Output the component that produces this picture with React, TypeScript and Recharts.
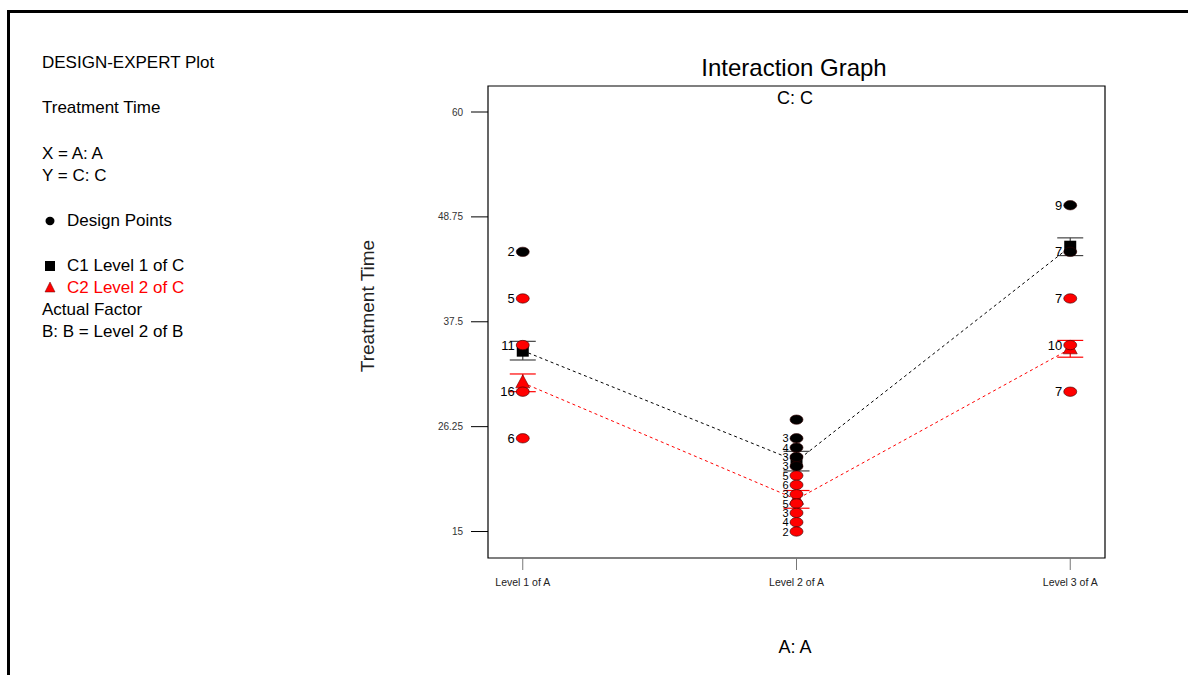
import React from "react";
import { ScatterChart, Scatter, XAxis, YAxis, ErrorBar, ReferenceArea } from "recharts";

// categories and ticks
const levelLabels = ["Level 1 of A", "Level 2 of A", "Level 3 of A"];
const levelPos = [1, 2, 3];
const yTicks = [15, 26.25, 37.5, 48.75, 60];

// predicted means and error half-widths per level of A
const c1Means = [34.4, 22.55, 45.55];
const c1Err = [1.0, 1.05, 0.95];
const c2Means = [30.95, 18.45, 34.6];
const c2Err = [0.95, 0.95, 0.9];

// design points: [level, value, count label]
const c1Points: [number, number, string][] = [
  [1, 45, "2"],
  [2, 27, ""],
  [2, 25, "3"],
  [2, 24, "4"],
  [2, 23, "3"],
  [2, 22, "3"],
  [3, 50, "9"],
  [3, 45, "7"],
];
const c2Points: [number, number, string][] = [
  [1, 40, "5"],
  [1, 35, "11"],
  [1, 30, "16"],
  [1, 25, "6"],
  [2, 21, "5"],
  [2, 20, "6"],
  [2, 19, "3"],
  [2, 18, "5"],
  [2, 17, "3"],
  [2, 16, "4"],
  [2, 15, "2"],
  [3, 40, "7"],
  [3, 35, "10"],
  [3, 30, "7"],
];

const FONT = "'Liberation Sans', Arial, sans-serif";
const X_DOMAIN: [number, number] = [0.873, 3.127];
const Y_DOMAIN: [number, number] = [12.16, 62.79];

const meanRows = (means: number[], errs: number[]) =>
  means.map((m, i) => ({ x: levelPos[i], y: m, e: errs[i] }));
const pointRows = (pts: [number, number, string][]) => pts.map(([x, y, n]) => ({ x, y, n }));

const dotShape = (fill: string) => (props: any) => {
  const { cx, cy, payload } = props;
  // the crowded middle column uses a slightly smaller count label
  const crowded = payload.x === 2;
  return (
    <g>
      <ellipse cx={cx} cy={cy} rx={6.5} ry={4.7} fill={fill} stroke="#300" strokeWidth={0.6} />
      {payload.n ? (
        <text
          x={cx - 8}
          y={cy + (crowded ? 4 : 4.5)}
          textAnchor="end"
          fontSize={crowded ? 11 : 13}
          fill="#000"
          fontFamily={FONT}
        >
          {payload.n}
        </text>
      ) : null}
    </g>
  );
};

const squareShape = (props: any) => {
  const { cx, cy } = props;
  return <rect x={cx - 6} y={cy - 6} width={12} height={12} fill="#000" />;
};

const triangleShape = (props: any) => {
  const { cx, cy } = props;
  return (
    <polygon
      points={`${cx},${cy - 8} ${cx - 7},${cy + 5} ${cx + 7},${cy + 5}`}
      fill="#f00"
      stroke="#600"
      strokeWidth={0.6}
    />
  );
};

const Txt = ({ x, y, size, color = "#000", children, rotate }: any) => (
  <div
    style={{
      position: "absolute",
      left: x,
      top: y,
      transform: `translate(-50%, -50%)${rotate ? " rotate(-90deg)" : ""}`,
      fontSize: size,
      color,
      whiteSpace: "nowrap",
      lineHeight: 1,
    }}
  >
    {children}
  </div>
);

const LegendLine = ({ y, left = 42, color = "#000", children }: any) => (
  <div
    style={{
      position: "absolute",
      left,
      top: y - 10,
      fontSize: 17,
      lineHeight: "20px",
      color,
      whiteSpace: "nowrap",
    }}
  >
    {children}
  </div>
);

export default function App() {
  return (
    <div
      style={{
        position: "fixed",
        left: 0,
        top: 0,
        width: 1188,
        height: 675,
        background: "#fff",
        fontFamily: FONT,
        overflow: "hidden",
      }}
    >
      <div
        style={{
          position: "absolute",
          left: 7,
          top: 10,
          width: 1200,
          height: 700,
          borderTop: "3px solid #000",
          borderLeft: "3px solid #000",
          boxSizing: "border-box",
        }}
      />

      <LegendLine y={63}>DESIGN-EXPERT Plot</LegendLine>
      <LegendLine y={108}>Treatment Time</LegendLine>
      <LegendLine y={154}>X = A: A</LegendLine>
      <LegendLine y={176}>Y = C: C</LegendLine>
      <svg style={{ position: "absolute", left: 42, top: 212 }} width={20} height={130}>
        <ellipse cx={8} cy={9} rx={4.5} ry={4.2} fill="#000" />
        <rect x={3} y={49} width={10} height={10} fill="#000" />
        <polygon points="8,70 3,80 13,80" fill="#f00" stroke="#600" strokeWidth={0.5} />
      </svg>
      <LegendLine y={221} left={67}>Design Points</LegendLine>
      <LegendLine y={266} left={67}>C1 Level 1 of C</LegendLine>
      <LegendLine y={288} left={67} color="#f00">C2 Level 2 of C</LegendLine>
      <LegendLine y={310}>Actual Factor</LegendLine>
      <LegendLine y={332}>B: B = Level 2 of B</LegendLine>

      <div style={{ position: "absolute", left: 0, top: 0 }}>
        <ScatterChart width={1188} height={675} margin={{ top: 86, right: 83, bottom: 87, left: 428 }}>
          <XAxis
            dataKey="x"
            type="number"
            domain={X_DOMAIN}
            allowDataOverflow
            ticks={levelPos}
            tickFormatter={(v: number) => levelLabels[Math.round(v) - 1]}
            axisLine={false}
            tickSize={12}
            tickMargin={9}
            tickLine={{ stroke: "#777" }}
            tick={{ fontSize: 10.5, fill: "#222", fontFamily: FONT }}
            height={30}
          />
          <YAxis
            dataKey="y"
            type="number"
            domain={Y_DOMAIN}
            allowDataOverflow
            ticks={yTicks}
            axisLine={false}
            tickSize={17}
            tickMargin={8}
            tickLine={{ stroke: "#000" }}
            tick={{ fontSize: 10, fill: "#333", fontFamily: FONT }}
            width={60}
          />
          <ReferenceArea
            x1={X_DOMAIN[0]}
            x2={X_DOMAIN[1]}
            y1={Y_DOMAIN[0]}
            y2={Y_DOMAIN[1]}
            fill="#fff"
            fillOpacity={0}
            stroke="#000"
            strokeWidth={1.2}
          />
          <Scatter
            data={meanRows(c1Means, c1Err)}
            line={{ stroke: "#000", strokeWidth: 1, strokeDasharray: "3 3" }}
            shape={squareShape}
            isAnimationActive={false}
          >
            <ErrorBar dataKey="e" direction="y" width={13} stroke="#444" strokeWidth={1.2} isAnimationActive={false} />
          </Scatter>
          <Scatter
            data={meanRows(c2Means, c2Err)}
            line={{ stroke: "#f00", strokeWidth: 1, strokeDasharray: "3 3" }}
            shape={triangleShape}
            isAnimationActive={false}
          >
            <ErrorBar dataKey="e" direction="y" width={13} stroke="#f00" strokeWidth={1.2} isAnimationActive={false} />
          </Scatter>
          <Scatter data={pointRows(c1Points)} shape={dotShape("#000")} isAnimationActive={false} />
          <Scatter data={pointRows(c2Points)} shape={dotShape("#f00")} isAnimationActive={false} />
        </ScatterChart>
      </div>

      <Txt x={794} y={68} size={24}>Interaction Graph</Txt>
      <Txt x={795} y={98} size={18}>C: C</Txt>
      <Txt x={367} y={306} size={19} color="#222" rotate>Treatment Time</Txt>
      <Txt x={795} y={647} size={18}>A: A</Txt>
    </div>
  );
}
